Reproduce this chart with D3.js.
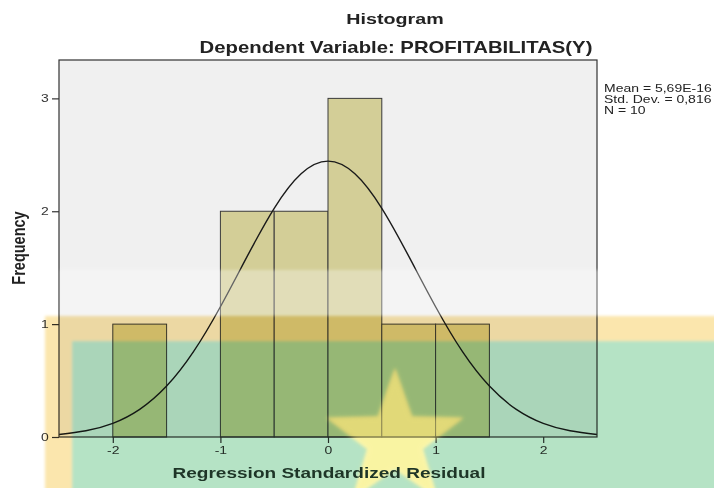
<!DOCTYPE html>
<html>
<head>
<meta charset="utf-8">
<script src="https://cdn.jsdelivr.net/npm/d3@7"></script>
<style>
body { margin: 0; background: #fff; }
svg { display: block; font-family: Arial, "Liberation Sans", sans-serif; }
</style>
</head>
<body>
<div id="chart"></div>
<script>
// histogram bins (lower edge) and frequencies
var binStart = [-2, -1, -0.5, 0, 0.5, 1];
var binCount = [1, 2, 2, 3, 1, 1];
var binWidth = 0.5;

// normal curve
var curveX = [-2.5, -2.25, -2, -1.75, -1.5, -1.25, -1, -0.75, -0.5, -0.25, 0,
	0.25, 0.5, 0.75, 1, 1.25, 1.5, 1.75, 2, 2.25, 2.5];
var curveY = [0.022, 0.055, 0.121, 0.245, 0.451, 0.756, 1.154, 1.602, 2.026, 2.332, 2.444,
	2.332, 2.026, 1.602, 1.154, 0.756, 0.451, 0.245, 0.121, 0.055, 0.022];

var xTicks = [-2, -1, 0, 1, 2];
var yTicks = [0, 1, 2, 3];
var statLines = ['Mean = 5,69E-16', 'Std. Dev. = 0,816', 'N = 10'];

var width = 714;
var height = 488;
var plot = {left: 59, right: 597, top: 60, bottom: 437};
var sx = 1.27; // the picture is stretched sideways

var svg = d3.select('#chart')
	.append('svg')
	.attr('width', width)
	.attr('height', height);

var defs = svg.append('defs');
defs.append('filter')
	.attr('id', 'soft')
	.attr('x', '-5%').attr('y', '-5%')
	.attr('width', '110%').attr('height', '110%')
	.append('feGaussianBlur')
	.attr('stdDeviation', 1.6);
defs.append('filter')
	.attr('id', 'glow')
	.attr('x', '-20%').attr('y', '-20%')
	.attr('width', '140%').attr('height', '140%')
	.append('feGaussianBlur')
	.attr('stdDeviation', 2.6);

var x = d3.scaleLinear().domain([-2.5, 2.5]).range([plot.left, plot.right]);
var y = d3.scaleLinear().domain([0, 3.34]).range([plot.bottom, plot.top]);

function label(x0, y0, txt, size, weight, anchor, stretch){
	return svg.append('text')
		.attr('transform', 'translate(' + x0 + ',' + y0 + ') scale(' + (stretch || sx) + ',1)')
		.attr('text-anchor', anchor || 'middle')
		.attr('font-size', size)
		.attr('font-weight', weight || 'normal')
		.attr('fill', '#222')
		.text(txt);
}

// plot background
svg.append('rect')
	.attr('x', plot.left)
	.attr('y', plot.top)
	.attr('width', plot.right - plot.left)
	.attr('height', plot.bottom - plot.top)
	.attr('fill', '#f0f0f0');

// bars
svg.selectAll('.bar')
	.data(binStart)
	.enter()
	.append('rect')
	.attr('class', 'bar')
	.attr('x', function(d){ return x(d); })
	.attr('y', function(d, i){ return y(binCount[i]); })
	.attr('width', function(d){ return x(d + binWidth) - x(d); })
	.attr('height', function(d, i){ return y(0) - y(binCount[i]); })
	.attr('fill', '#d3ce97')
	.attr('stroke', '#3a3a3a')
	.attr('stroke-width', 1);

// normal curve
var line = d3.line()
	.x(function(d, i){ return x(curveX[i]); })
	.y(function(d){ return y(d); })
	.curve(d3.curveNatural);

svg.append('path')
	.attr('d', line(curveY))
	.attr('fill', 'none')
	.attr('stroke', '#1a1a1a')
	.attr('stroke-width', 1.4);

// frame
svg.append('rect')
	.attr('x', plot.left)
	.attr('y', plot.top)
	.attr('width', plot.right - plot.left)
	.attr('height', plot.bottom - plot.top)
	.attr('fill', 'none')
	.attr('stroke', '#333')
	.attr('stroke-width', 1.2);

// axes
var yAxis = svg.append('g')
	.attr('transform', 'translate(' + plot.left + ',0)')
	.call(d3.axisLeft(y).tickValues(yTicks).tickSize(7).tickFormat(String));
var xAxis = svg.append('g')
	.attr('transform', 'translate(0,' + plot.bottom + ')')
	.call(d3.axisBottom(x).tickValues(xTicks).tickSize(6).tickFormat(String));

[xAxis, yAxis].forEach(function(a){
	a.select('.domain').remove();
	a.selectAll('line').attr('stroke', '#333').attr('stroke-width', 1.2);
	a.selectAll('text')
		.attr('font-size', 11)
		.attr('font-family', 'Arial, "Liberation Sans", sans-serif')
		.attr('fill', '#333');
});
yAxis.selectAll('text').attr('x', -8).attr('transform', 'scale(' + sx + ',1)');
xAxis.selectAll('text').attr('y', 9).attr('transform', 'scale(' + sx + ',1)');

// titles
label(395, 24, 'Histogram', 15.5, 'bold');
label(396, 53, 'Dependent Variable: PROFITABILITAS(Y)', 16, 'bold');

svg.append('text')
	.attr('transform', 'translate(25,248) rotate(-90) scale(1,' + sx + ')')
	.attr('text-anchor', 'middle')
	.attr('font-size', 14.5)
	.attr('font-weight', 'bold')
	.attr('fill', '#222')
	.text('Frequency');

statLines.forEach(function(s, i){
	label(604, 92 + i * 11, s, 10, 'normal', 'start', 1.4);
});

// washed-out watermark laid over the chart
svg.append('rect')
	.attr('x', plot.left + 1)
	.attr('y', 270)
	.attr('width', width - plot.left)
	.attr('height', 46)
	.attr('fill', '#fff')
	.attr('opacity', 0.32)
	.attr('filter', 'url(#soft)');

var mark = svg.append('g')
	.style('mix-blend-mode', 'multiply')
	.attr('filter', 'url(#soft)');

mark.append('rect')
	.attr('x', 45).attr('y', 316)
	.attr('width', width - 45 + 10).attr('height', height - 316 + 10)
	.attr('fill', '#fbe6ad');

mark.append('rect')
	.attr('x', 72).attr('y', 341)
	.attr('width', width - 72 + 10).attr('height', height - 341 + 10)
	.attr('fill', '#b5e3c5');

var star = d3.range(10).map(function(k){
	var r = k % 2 === 0 ? 72 : 29;
	var a = -Math.PI / 2 + k * Math.PI / 5;
	return [395 + r * Math.cos(a), 440 + r * Math.sin(a)];
});
var starPath = 'M' + star.join('L') + 'Z';

mark.append('path')
	.attr('d', starPath)
	.attr('fill', '#fdf9bc');

svg.append('path')
	.attr('d', starPath)
	.attr('fill', '#f6ee84')
	.attr('opacity', 0.45)
	.attr('filter', 'url(#glow)');

// x title sits above the watermark, tinted like the reference
label(329, 478, 'Regression Standardized Residual', 15, 'bold')
	.attr('fill', '#1e3527');
</script>
</body>
</html>
